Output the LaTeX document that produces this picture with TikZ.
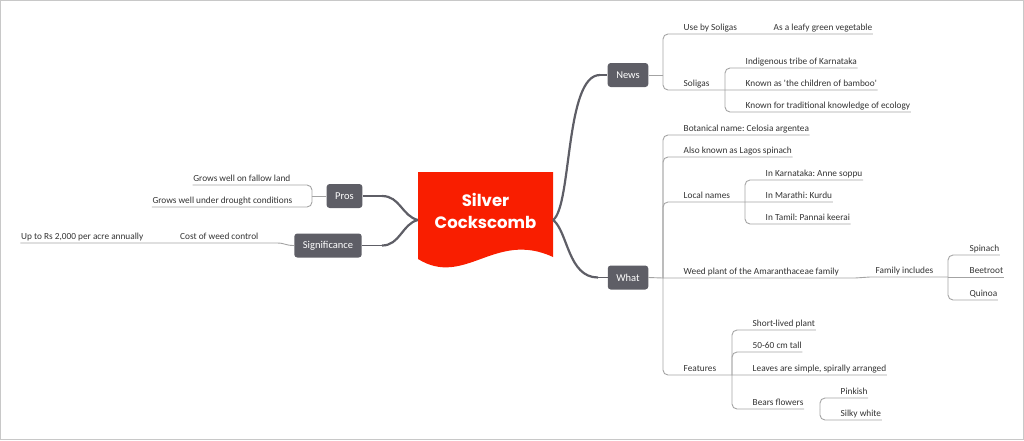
\documentclass[tikz,border=0pt]{standalone}
\usepackage{fontspec}
\setmainfont{Carlito}
\newfontfamily\titlefont{Poppins}
\definecolor{cred}{HTML}{F91E00}
\definecolor{boxgray}{HTML}{5E5E66}
\definecolor{linegray}{HTML}{A3A3A3}
\definecolor{txt}{HTML}{333333}
\definecolor{bordergray}{HTML}{C8C8C8}
\frenchspacing
\begin{document}
\begin{tikzpicture}[x=1pt,y=-1pt,
  lbl/.style={inner xsep=0.5pt, inner ysep=0pt, text height=7pt, text depth=3.5pt, font=\fontsize{9.3}{11}\selectfont, text=txt},
  rl/.style={lbl, anchor=south west},
  ll/.style={lbl, anchor=south east},
  box/.style={fill=boxgray, rounded corners=3pt, text=white, font=\fontsize{10.5}{12}\selectfont, inner xsep=8.6pt, inner ysep=0pt, minimum height=24pt},
  br/.style={draw=linegray, line width=0.9pt},
  brc/.style={br, rounded corners=5pt},
  mainline/.style={draw=boxgray, line width=2.2pt},
  mainthin/.style={draw=boxgray, line width=1.3pt},
  title/.style={text=white, align=center, font=\titlefont\bfseries\fontsize{16.5}{22}\selectfont, inner sep=0pt}
]
\useasboundingbox (0,0) rectangle (1024,440);
\draw[bordergray, line width=1pt] (0.5,0.5) rectangle (1023.5,439.5);

% central topic
\fill[cred] (418,172) -- (553,172) -- (553,257) .. controls (495,230) and (465,288) .. (418,259) -- cycle;
\node[minimum width=135pt, minimum height=96pt, inner sep=0pt] (center) at (485.5,220) {};
\node[title] (ctitle) at (485.5,211) {Silver\\Cockscomb};

% main topics
\node[box] (news) at (628,75) {News};
\node[box] (what) at (628,277.5) {What};
\node[box] (pros) at (344.5,196) {Pros};
\node[box] (sig) at (328,245.5) {Significance};

% junctions
\coordinate (jN) at (663,75);
\coordinate (jS) at (725,90);
\coordinate (jW) at (663,278);
\coordinate (jL) at (745,202);
\coordinate (jF) at (948,277);
\coordinate (jFe) at (732,375);
\coordinate (jB) at (820,409);
\coordinate (jP) at (312,196);

% right labels
\node[rl] (n1) at (683,34) {Use by Soligas};
\node[rl] (n1a) at (773,34) {As a leafy green vegetable};
\node[rl] (n2) at (683,90) {Soligas};
\node[rl] (n2a) at (745,68) {Indigenous tribe of Karnataka};
\node[rl] (n2b) at (745,90) {Known as \textquotesingle the children of bamboo\textquotesingle};
\node[rl] (n2c) at (745,112) {Known for traditional knowledge of ecology};

\node[rl] (w1) at (683,135) {Botanical name: Celosia argentea};
\node[rl] (w2) at (683,157) {Also known as Lagos spinach};
\node[rl] (w3) at (683,202) {Local names};
\node[rl] (w3a) at (765,180) {In Karnataka: Anne soppu};
\node[rl] (w3b) at (765,202) {In Marathi: Kurdu};
\node[rl] (w3c) at (765,224) {In Tamil: Pannai keerai};
\node[rl] (w4) at (683,278) {Weed plant of the Amaranthaceae family};
\node[rl] (w4a) at (875,277) {Family includes};
\node[rl] (w4a1) at (969,255) {Spinach};
\node[rl] (w4a2) at (969,277) {Beetroot};
\node[rl] (w4a3) at (969,300) {Quinoa};
\node[rl] (w5) at (683,375) {Features};
\node[rl] (w5a) at (752,330) {Short-lived plant};
\node[rl] (w5b) at (752,352) {50-60 cm tall};
\node[rl] (w5c) at (752,375) {Leaves are simple, spirally arranged};
\node[rl] (w5d) at (752,409) {Bears flowers};
\node[rl] (w5d1) at (840,398) {Pinkish};
\node[rl] (w5d2) at (840,420) {Silky white};

% left labels
\node[ll] (p1) at (291,185) {Grows well on fallow land};
\node[ll] (p2) at (293,207) {Grows well under drought conditions};
\node[ll] (s1) at (259,243) {Cost of weed control};
\node[ll] (s1a) at (144,243) {Up to Rs 2,000 per acre annually};

% main connectors
\draw[mainline] (center.east) .. controls (572,205) and (565,75) .. (600,75);
\draw[mainthin] (600,75) -- (news.west);
\draw[mainline] (center.east) .. controls (568,232) and (568,277.5) .. (598,277.5);
\draw[mainthin] (598,277.5) -- (what.west);
\draw[mainline] (center.west) .. controls (402,216) and (400,196) .. (382,196);
\draw[mainthin] (382,196) -- (pros.east);
\draw[mainline] (center.west) .. controls (402,224) and (400,245.5) .. (382,245.5);
\draw[mainthin] (382,245.5) -- (sig.east);

% News branch
\draw[br] (news.east) -- (jN);
\draw[brc] (jN) |- (n1a.south east);
\draw[brc] (jN) |- (n2b.south east);
\draw[brc] (jS) |- (n2a.south east);
\draw[brc] (jS) |- (n2c.south east);

% What branch
\draw[br] (what.east) -- (jW);
\draw[brc] (jW) |- (w1.south east);
\draw[brc] (jW) |- (w2.south east);
\draw[brc] (jW) |- (w3b.south east);
\draw[brc] (jL) |- (w3a.south east);
\draw[brc] (jL) |- (w3c.south east);
\draw[br] (jW) -- (855,278) .. controls (862,278) and (863,277) .. (870,277) -- (jF);
\draw[br] (jF) -- (w4a2.south east);
\draw[brc] (jF) |- (w4a1.south east);
\draw[brc] (jF) |- (w4a3.south east);
\draw[brc] (jW) |- (w5c.south east);
\draw[brc] (jFe) |- (w5a.south east);
\draw[brc] (jFe) |- (w5b.south east);
\draw[brc] (jFe) |- (w5d.south east);
\draw[brc] (jB) |- (w5d1.south east);
\draw[brc] (jB) |- (w5d2.south east);

% Pros branch
\draw[br] (pros.west) -- (jP);
\draw[brc] (jP) |- (p1.south west);
\draw[brc] (jP) |- (p2.south west);

% Significance branch
\draw[br] (sig.west) .. controls (285,245.5) and (285,243) .. (277,243) -- (s1a.south west);
\end{tikzpicture}
\end{document}
